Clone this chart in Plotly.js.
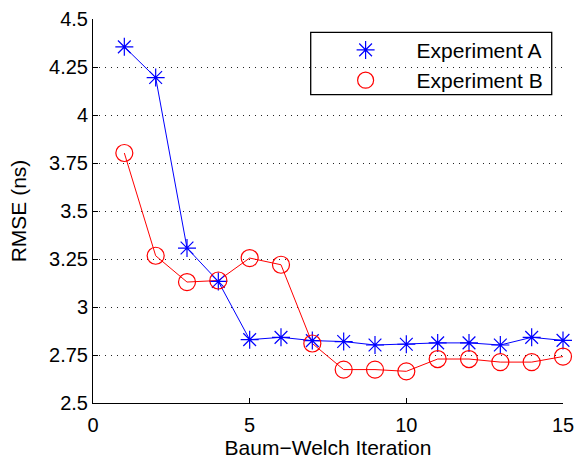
<!DOCTYPE html>
<html>
<head>
<meta charset="utf-8">
<script src="https://cdn.plot.ly/plotly-3.0.1.min.js"></script>
<style>html,body{margin:0;padding:0;background:#fff;}#chart{width:582px;height:459px;}</style>
</head>
<body>
<div id="chart"></div>
<script>
var iterations = [1,2,3,4,5,6,7,8,9,10,11,12,13,14,15];
var experimentA = [4.355,4.195,3.307,3.133,2.830,2.842,2.825,2.820,2.802,2.806,2.813,2.813,2.802,2.842,2.826];
var experimentB = [3.802,3.267,3.130,3.138,3.255,3.220,2.810,2.674,2.674,2.665,2.729,2.729,2.713,2.713,2.742];
var seriesNames = ['Experiment A','Experiment B'];
var xTicks = [0,5,10,15];
var yTicks = [2.5,2.75,3,3.25,3.5,3.75,4,4.25,4.5];
var yTickText = ['2.5','2.75','3','3.25','3.5','3.75','4','4.25','4.5'];

var FONT = 'Liberation Sans, Arial, Helvetica, sans-serif';
var traces = [
  {x: iterations, y: experimentA, mode: 'lines', line: {color: '#0000ff', width: 1}, showlegend: false, hoverinfo: 'skip'},
  {x: iterations, y: experimentB, mode: 'lines', line: {color: '#ff0000', width: 1}, showlegend: false, hoverinfo: 'skip'},
  {x: iterations, y: experimentA, mode: 'markers', name: seriesNames[0], cliponaxis: false,
   marker: {symbol: 'asterisk-open', size: 15, color: '#0000ff', line: {width: 1.2, color: '#0000ff'}}},
  {x: iterations, y: experimentB, mode: 'markers', name: seriesNames[1], cliponaxis: false,
   marker: {symbol: 'circle-open', size: 17, color: '#ff0000', line: {width: 1.2, color: '#ff0000'}}}
];

var layout = {
  width: 582, height: 459,
  margin: {l: 93, r: 19, t: 19, b: 56},
  paper_bgcolor: '#fff', plot_bgcolor: '#fff',
  font: {family: FONT, size: 20, color: '#000'},
  showlegend: true,
  legend: {
    x: 0.4715, y: 0.972, xanchor: 'left', yanchor: 'top',
    borderwidth: 0, bgcolor: 'rgba(0,0,0,0)',
    font: {family: FONT, size: 21, color: '#000'},
    itemwidth: 92, tracegroupgap: 0
  },
  shapes: [{
    type: 'rect', xref: 'paper', yref: 'paper',
    x0: 0.4632, x1: 0.976, y0: 0.803, y1: 0.965,
    line: {color: '#000', width: 1.3}, fillcolor: '#fff', layer: 'below'
  }],
  xaxis: {
    range: [0, 15], tickvals: xTicks, ticktext: xTicks.map(String),
    ticks: 'inside', ticklen: 5, tickcolor: '#000', ticklabelstandoff: 4,
    showline: true, linecolor: '#000', linewidth: 1, mirror: false,
    showgrid: false, zeroline: false,
    title: {text: 'Baum\u2212Welch Iteration', font: {family: FONT, size: 21}, standoff: 14},
    automargin: false
  },
  yaxis: {
    range: [2.5, 4.5], tickvals: yTicks, ticktext: yTickText,
    ticks: 'inside', ticklen: 5, tickcolor: '#000',
    showline: true, linecolor: '#000', linewidth: 1, mirror: false,
    showgrid: true, gridcolor: '#222', gridwidth: 1, griddash: '1px,5px',
    zeroline: false,
    title: {text: 'RMSE (ns)', font: {family: FONT, size: 21}, standoff: 16},
    automargin: false
  }
};

Plotly.newPlot('chart', traces, layout, {staticPlot: true, displayModeBar: false});
</script>
</body>
</html>
